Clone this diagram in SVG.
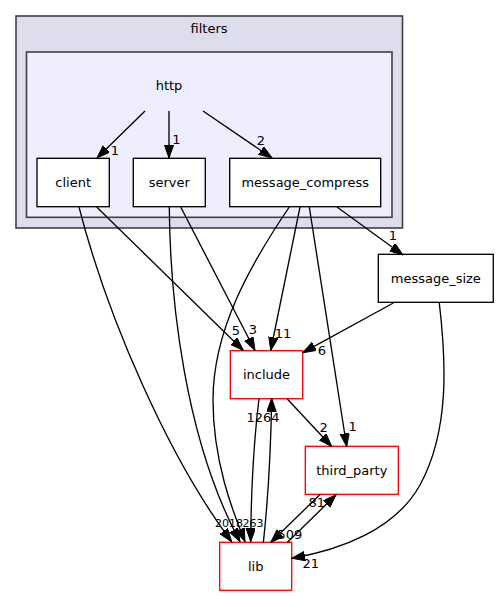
<svg xmlns="http://www.w3.org/2000/svg" width="499" height="596" viewBox="0 0 499 596">
<style>
text { font-family: "DejaVu Sans", "Noto Sans", sans-serif; font-size: 13px; fill: #000; }
.c { text-anchor: middle; }
.lbl { font-size: 13px; text-anchor: middle; }
.sm { font-size: 11px; text-anchor: middle; }
.outer { fill: #ddddee; stroke: #404040; stroke-width: 1.6; }
.inner { fill: #eeeeff; stroke: #404040; stroke-width: 1.6; }
.node { fill: #ffffff; stroke: #000000; stroke-width: 1.33; }
.ext { fill: #ffffff; stroke: #ff0000; stroke-width: 1.33; }
.e { fill: none; stroke: #000000; stroke-width: 1.33; marker-end: url(#arr); }
</style>
<defs>
<marker id="arr" markerUnits="userSpaceOnUse" markerWidth="14" markerHeight="10" refX="13.3" refY="4.67" orient="auto" viewBox="0 0 14 10">
<path d="M0,0 L13.3,4.67 L0,9.33 z" fill="#000" stroke="#000" stroke-width="1"/>
</marker>
</defs>
<rect width="499" height="596" fill="#ffffff"/>
<g id="cluster_filters">
<rect class="outer" x="16" y="16" width="386.5" height="212"/>
<text class="c" x="209" y="32.5">filters</text>
</g>
<g id="cluster_http">
<rect class="inner" x="26.5" y="52" width="365.5" height="165.3"/>
<text class="c" x="169" y="90">http</text>
</g>
<g id="node_client">
<rect class="node" x="37" y="158.3" width="72.3" height="48.4"/>
<text class="c" x="73.2" y="187">client</text>
</g>
<g id="node_server">
<rect class="node" x="133.3" y="158.3" width="72" height="48.4"/>
<text class="c" x="169.3" y="187">server</text>
</g>
<g id="node_message_compress">
<rect class="node" x="229.7" y="158.3" width="151" height="48.4"/>
<text class="c" x="305.2" y="187">message_compress</text>
</g>
<g id="node_message_size">
<rect class="node" x="378.3" y="254.3" width="115" height="48"/>
<text class="c" x="435.8" y="283">message_size</text>
</g>
<g id="node_include">
<rect class="ext" x="230.3" y="350.7" width="72.4" height="48"/>
<text class="c" x="266.5" y="379">include</text>
</g>
<g id="node_third_party">
<rect class="ext" x="305.3" y="446.3" width="93" height="48"/>
<text class="c" x="351.8" y="475">third_party</text>
</g>
<g id="node_lib">
<rect class="ext" x="219.7" y="542.3" width="72" height="48"/>
<text class="c" x="255.7" y="571">lib</text>
</g>
<g id="connectors">
<path class="e" d="M145,111 L97,158"/>
<text class="lbl" x="115" y="155">1</text>
<path class="e" d="M169,111 L169,158"/>
<text class="lbl" x="176.5" y="144">1</text>
<path class="e" d="M203,111 L272,158"/>
<text class="lbl" x="261" y="145">2</text>
<path class="e" d="M96.7,207 L243.3,350.5"/>
<text class="lbl" x="236" y="335">5</text>
<path class="e" d="M79,207 C108,320 170,460 231.7,541.7"/>
<path class="e" d="M169.3,207 C170,300 185,440 240,541.7"/>
<path class="e" d="M180.7,207 L255,350.5"/>
<text class="lbl" x="253" y="334">3</text>
<path class="e" d="M289.3,207 C250,265 213,330 213,400 C213,460 232,510 245,541.7"/>
<path class="e" d="M300,207 L270.7,350.5"/>
<text class="lbl" x="283" y="338">11</text>
<path class="e" d="M309.3,207 L346.7,446.5"/>
<text class="lbl" x="352.7" y="431">1</text>
<path class="e" d="M337,207 L403,255"/>
<text class="lbl" x="393" y="240">1</text>
<path class="e" d="M393.3,303 L302.7,352.7"/>
<text class="lbl" x="322" y="355">6</text>
<path class="e" d="M439.3,303 C446,360 450,430 420,485 C395,530 340,550 291.7,558.3"/>
<text class="lbl" x="310.8" y="567.7">21</text>
<path class="e" d="M259,398.3 C254,440 251,500 250.7,541.7"/>
<path class="e" d="M263.3,543 C268,500 271,440 271.7,398.3"/>
<text class="lbl" x="263" y="421.5">1264</text>
<path class="e" d="M287.3,399 L331.7,446.5"/>
<text class="lbl" x="323.7" y="431.7">2</text>
<path class="e" d="M320,494.5 L270.7,542.5"/>
<text class="lbl" x="290" y="539.3">509</text>
<path class="e" d="M287.3,542.5 L336,494.8"/>
<text class="lbl" x="316.7" y="506.7">81</text>
<text class="sm" x="222" y="526.5">20</text>
<text class="sm" x="236" y="526.5">18</text>
<text class="sm" x="253" y="526.5">263</text>
</g>
</svg>
